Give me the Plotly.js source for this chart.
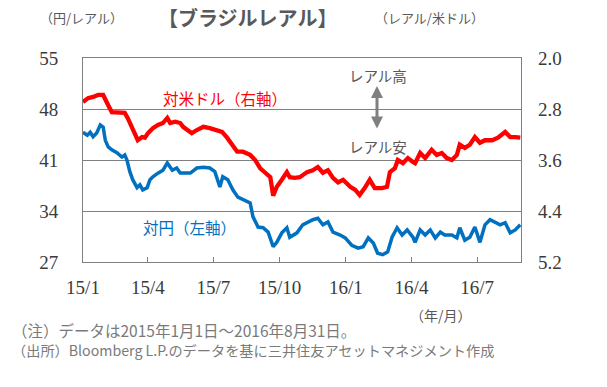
<!DOCTYPE html>
<html><head><meta charset="utf-8">
<script src="https://cdn.plot.ly/plotly-3.0.1.min.js"></script>
<style>html,body{margin:0;padding:0;background:#fff;}#chart{width:607px;height:387px;}</style>
</head><body><div id="chart"></div>
<script>
// BRL per USD (right axis, reversed)
const usdDates = ['2015-01-01','2015-01-08','2015-01-15','2015-01-22','2015-01-29','2015-02-01','2015-02-05','2015-02-10','2015-02-14','2015-02-21','2015-02-28','2015-03-04','2015-03-10','2015-03-14','2015-03-18','2015-03-24','2015-03-28','2015-04-01','2015-04-08','2015-04-15','2015-04-22','2015-04-28','2015-05-02','2015-05-09','2015-05-16','2015-05-20','2015-05-27','2015-06-01','2015-06-08','2015-06-17','2015-06-26','2015-07-06','2015-07-13','2015-07-20','2015-07-27','2015-08-03','2015-08-11','2015-08-21','2015-08-28','2015-09-04','2015-09-11','2015-09-18','2015-09-22','2015-09-27','2015-10-04','2015-10-11','2015-10-15','2015-10-22','2015-10-29','2015-11-08','2015-11-16','2015-11-23','2015-11-30','2015-12-07','2015-12-14','2015-12-21','2015-12-28','2016-01-07','2016-01-14','2016-01-20','2016-01-27','2016-02-03','2016-02-10','2016-02-20','2016-02-27','2016-03-02','2016-03-09','2016-03-13','2016-03-20','2016-03-27','2016-04-03','2016-04-06','2016-04-13','2016-04-20','2016-04-29','2016-05-06','2016-05-13','2016-05-20','2016-05-27','2016-06-03','2016-06-07','2016-06-14','2016-06-21','2016-06-28','2016-07-05','2016-07-12','2016-07-22','2016-07-30','2016-08-09','2016-08-16','2016-08-23','2016-08-30'];
const usdValues = [2.69,2.63,2.61,2.58,2.58,2.66,2.74,2.85,2.85,2.86,2.86,2.94,3.10,3.21,3.29,3.24,3.25,3.18,3.10,3.05,3.02,2.94,3.02,3.00,3.02,3.08,3.13,3.18,3.13,3.08,3.10,3.13,3.16,3.25,3.36,3.47,3.47,3.52,3.60,3.73,3.80,3.87,4.16,4.02,3.91,3.79,3.87,3.88,3.87,3.79,3.76,3.71,3.80,3.76,3.88,3.95,3.91,4.02,4.07,4.15,4.04,3.91,4.04,4.04,4.02,3.79,3.73,3.60,3.65,3.57,3.63,3.65,3.49,3.57,3.44,3.52,3.49,3.57,3.60,3.52,3.36,3.41,3.36,3.24,3.33,3.29,3.29,3.25,3.16,3.24,3.24,3.25];
// JPY per BRL (left axis)
const jpyDates = ['2015-01-01','2015-01-07','2015-01-11','2015-01-15','2015-01-20','2015-01-25','2015-01-29','2015-02-01','2015-02-05','2015-02-10','2015-02-17','2015-02-24','2015-02-28','2015-03-03','2015-03-07','2015-03-11','2015-03-17','2015-03-21','2015-03-25','2015-03-31','2015-04-04','2015-04-08','2015-04-15','2015-04-22','2015-04-28','2015-05-05','2015-05-11','2015-05-16','2015-05-23','2015-05-30','2015-06-08','2015-06-17','2015-06-26','2015-07-03','2015-07-10','2015-07-14','2015-07-21','2015-07-28','2015-08-04','2015-08-14','2015-08-21','2015-08-25','2015-09-01','2015-09-08','2015-09-15','2015-09-22','2015-09-27','2015-10-04','2015-10-11','2015-10-15','2015-10-25','2015-11-02','2015-11-08','2015-11-16','2015-11-23','2015-11-30','2015-12-07','2015-12-14','2015-12-24','2015-12-31','2016-01-09','2016-01-18','2016-01-25','2016-02-01','2016-02-08','2016-02-14','2016-02-21','2016-02-28','2016-03-05','2016-03-12','2016-03-19','2016-03-26','2016-04-03','2016-04-06','2016-04-13','2016-04-20','2016-04-27','2016-05-04','2016-05-11','2016-05-17','2016-05-27','2016-06-03','2016-06-07','2016-06-14','2016-06-21','2016-06-28','2016-07-05','2016-07-12','2016-07-19','2016-07-26','2016-08-02','2016-08-09','2016-08-16','2016-08-23','2016-08-30'];
const jpyValues = [44.8,44.4,44.8,44.2,44.7,45.8,45.5,43.7,42.8,42.4,42.0,41.4,41.7,41.0,39.4,38.3,37.2,37.6,36.9,37.2,38.3,38.7,39.2,39.6,40.6,39.6,39.9,39.2,39.2,39.2,39.9,40.0,39.9,39.4,37.3,38.7,38.3,36.9,35.9,35.5,35.1,33.2,31.8,31.7,31.1,29.1,29.7,31.0,31.7,30.4,31.0,32.1,32.4,32.8,33.0,32.1,32.5,31.1,30.7,30.3,29.3,28.9,29.1,30.3,29.6,28.2,28.0,28.4,30.4,31.7,30.7,31.4,30.4,29.7,31.4,30.7,31.4,30.3,31.1,30.7,30.7,30.3,31.7,30.0,30.4,31.8,29.7,32.1,32.8,32.4,32.1,32.4,31.0,31.4,32.1];

const xTickVals = ['2015-01-01','2015-04-01','2015-07-01','2015-10-01','2016-01-01','2016-04-01','2016-07-01'];
const xTickText = ['15/1','15/4','15/7','15/10','16/1','16/4','16/7'];
const leftTicks = [27,34,41,48,55];
const rightTicks = [2.0,2.8,3.6,4.4,5.2];

const W=607,H=387,L=83,R=86,T=58,B=125;
const pw=W-L-R, ph=H-T-B;
const px = X => (X-L)/pw;
const py = Y => (H-B-Y)/ph;

const numFont = {family:'Liberation Serif, serif', size:19, color:'#3a3a3a'};
const jp = 'Noto Sans CJK JP, sans-serif';
const grey = '#595959';

const traces = [
  {x: jpyDates, y: jpyValues, type:'scatter', mode:'lines', line:{color:'#0070C0', width:3.5}, yaxis:'y', hoverinfo:'skip'},
  {x: usdDates, y: usdValues, type:'scatter', mode:'lines', line:{color:'#FF0000', width:4.3}, yaxis:'y2', hoverinfo:'skip'}
];

const layout = {
  width:W, height:H, margin:{l:L, r:R, t:T, b:B},
  paper_bgcolor:'#fff', plot_bgcolor:'#fff', showlegend:false,
  xaxis:{type:'date', range:['2015-01-01','2016-08-31'], tickmode:'array', tickvals:xTickVals, ticktext:xTickText,
    ticks:'inside', ticklen:5, tickcolor:'#808080', tickwidth:1, showgrid:false, zeroline:false,
    showline:true, linecolor:'#808080', linewidth:1, mirror:true, tickfont:numFont, ticklabelstandoff:8},
  yaxis:{range:[27,55], tickmode:'array', tickvals:leftTicks, ticktext:leftTicks.map(String),
    ticks:'', showgrid:true, gridcolor:'#808080', gridwidth:1, zeroline:false,
    showline:true, linecolor:'#808080', linewidth:1, mirror:true, tickfont:numFont, ticklabelstandoff:20},
  yaxis2:{overlaying:'y', side:'right', range:[5.2,2.0], tickmode:'array', tickvals:rightTicks, ticktext:rightTicks.map(v=>v.toFixed(1)),
    ticks:'', showgrid:false, zeroline:false, showline:false, tickfont:numFont, ticklabelstandoff:16},
  annotations:[
    {xref:'paper', yref:'paper', x:px(247), y:py(17), text:'<b>【ブラジルレアル】</b>', showarrow:false, font:{family:jp, size:20, color:grey}, xanchor:'center', yanchor:'middle'},
    {xref:'paper', yref:'paper', x:px(38), y:py(17), text:'（円/レアル）', showarrow:false, font:{family:jp, size:13, color:grey}, xanchor:'left', yanchor:'middle'},
    {xref:'paper', yref:'paper', x:px(486), y:py(17), text:'（レアル/米ドル）', showarrow:false, font:{family:jp, size:13, color:grey}, xanchor:'right', yanchor:'middle'},
    {xref:'paper', yref:'paper', x:px(225), y:py(98), text:'対米ドル（右軸）', showarrow:false, font:{family:jp, size:15.5, color:'#FF0000'}, xanchor:'center', yanchor:'middle'},
    {xref:'paper', yref:'paper', x:px(189), y:py(227), text:'対円（左軸）', showarrow:false, font:{family:jp, size:15.5, color:'#0070C0'}, xanchor:'center', yanchor:'middle'},
    {xref:'paper', yref:'paper', x:px(378), y:py(75), text:'レアル高', showarrow:false, font:{family:jp, size:14.5, color:grey}, xanchor:'center', yanchor:'middle'},
    {xref:'paper', yref:'paper', x:px(378), y:py(146), text:'レアル安', showarrow:false, font:{family:jp, size:14.5, color:grey}, xanchor:'center', yanchor:'middle'},
    {xref:'paper', yref:'paper', x:px(377), y:py(86), text:'', showarrow:true, ax:0, ay:44, arrowside:'end+start', arrowhead:2, startarrowhead:2, arrowsize:0.8, startarrowsize:0.8, arrowwidth:3, arrowcolor:'#808080', standoff:0, startstandoff:0},
    {xref:'paper', yref:'paper', x:px(441), y:py(315), text:'（年/月）', showarrow:false, font:{family:jp, size:14, color:grey}, xanchor:'center', yanchor:'middle'},
    {xref:'paper', yref:'paper', x:px(10), y:py(330), text:'（注）データは2015年1月1日～2016年8月31日。', showarrow:false, font:{family:jp, size:15.5, color:'#7a7a7a'}, xanchor:'left', yanchor:'middle'},
    {xref:'paper', yref:'paper', x:px(10), y:py(350), text:'（出所）Bloomberg L.P.のデータを基に三井住友アセットマネジメント作成', showarrow:false, font:{family:jp, size:14.2, color:'#7a7a7a'}, xanchor:'left', yanchor:'middle'}
  ]
};

Plotly.newPlot('chart', traces, layout, {staticPlot:true, displayModeBar:false});
</script></body></html>
